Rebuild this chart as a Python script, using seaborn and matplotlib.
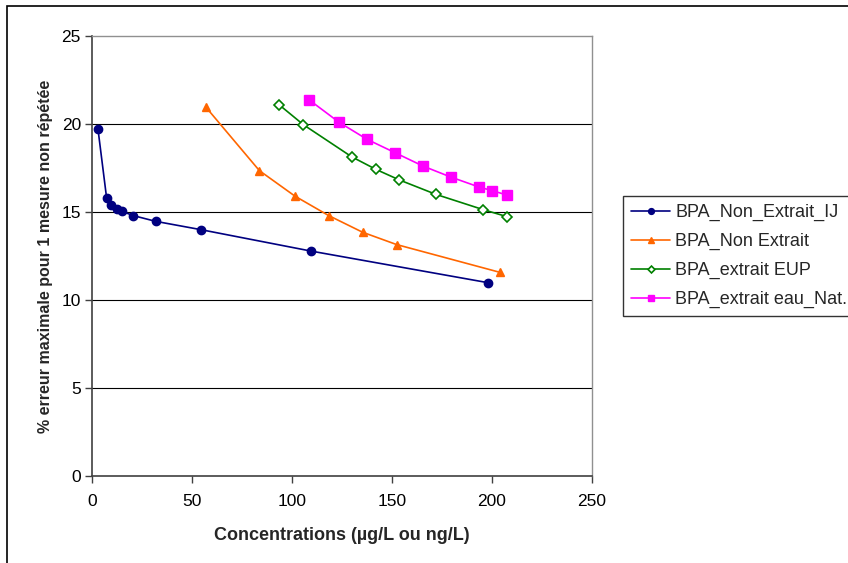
import matplotlib
matplotlib.use("Agg")
import matplotlib.pyplot as plt
from matplotlib.patches import Rectangle
import seaborn as sns
import pandas as pd

sns.set_theme(style="white")
plt.rcParams["font.family"] = ["Liberation Sans", "DejaVu Sans"]

# data
ij_x = [3, 7.3, 9.3, 12.3, 15, 20.5, 31.8, 54.3, 109.5, 198.2]
ij_y = [19.7, 15.8, 15.4, 15.17, 15.04, 14.8, 14.47, 14.0, 12.78, 10.98]

ne_x = [57, 83.7, 101.5, 118.3, 135.3, 152.3, 204]
ne_y = [20.95, 17.35, 15.9, 14.8, 13.85, 13.15, 11.57]

eup_x = [93.7, 105.7, 129.8, 142, 153.7, 172, 195.7, 207.7]
eup_y = [21.08, 19.96, 18.14, 17.42, 16.82, 16.0, 15.13, 14.73]

nat_x = [108.7, 123.5, 137.5, 151.5, 165.5, 179.3, 193.5, 200.2, 207.3]
nat_y = [21.36, 20.1, 19.13, 18.37, 17.61, 16.99, 16.42, 16.21, 15.97]

series_names = ["BPA_Non_Extrait_IJ", "BPA_Non Extrait", "BPA_extrait EUP", "BPA_extrait eau_Nat."]

frames = []
for name, xs, ys in zip(series_names, [ij_x, ne_x, eup_x, nat_x], [ij_y, ne_y, eup_y, nat_y]):
    frames.append(pd.DataFrame({"conc": xs, "err": ys, "serie": name}))
df = pd.concat(frames, ignore_index=True)

styles = {
    "BPA_Non_Extrait_IJ": dict(color="#000080", marker="o", ms=6, mfc="#000080", mec="#000080"),
    "BPA_Non Extrait": dict(color="#FF6600", marker="^", ms=6, mfc="#FF6600", mec="#FF6600"),
    "BPA_extrait EUP": dict(color="#008000", marker="D", ms=5, mfc="white", mec="#008000", mew=1.2),
    "BPA_extrait eau_Nat.": dict(color="#FF00FF", marker="s", ms=6.5, mfc="#FF00FF", mec="#FF00FF"),
}

fig = plt.figure(figsize=(8.48, 5.63), dpi=100)
ax = fig.add_axes([92 / 848, 1 - 476 / 563, 500 / 848, 440 / 563])

for name in series_names:
    sub = df[df["serie"] == name]
    st = styles[name]
    sns.lineplot(data=sub, x="conc", y="err", ax=ax, sort=False, estimator=None,
                 color=st["color"], linewidth=1.2, label=name,
                 marker=st["marker"], markersize=st["ms"], markerfacecolor=st["mfc"],
                 markeredgecolor=st["mec"], markeredgewidth=st.get("mew", 1))

ax.set_xlim(0, 250)
ax.set_ylim(0, 25)
ax.set_xticks([0, 50, 100, 150, 200, 250])
ax.set_yticks([0, 5, 10, 15, 20, 25])
for yv in [5, 10, 15, 20]:
    ax.axhline(yv, color="black", linewidth=0.8, zorder=0)

ax.tick_params(axis="both", which="both", direction="out", length=5, width=1,
               color="#404040", labelsize=12.5, labelcolor="black")
ax.tick_params(axis="x", bottom=True, pad=8)
ax.tick_params(axis="y", left=True, pad=3)
for side in ["left", "bottom"]:
    ax.spines[side].set_color("#404040")
    ax.spines[side].set_linewidth(1.2)
for side in ["top", "right"]:
    ax.spines[side].set_color("#909090")
    ax.spines[side].set_linewidth(1)

ax.set_xlabel("Concentrations (µg/L ou ng/L)", fontsize=13, fontweight="bold", labelpad=13)
ax.set_ylabel("% erreur maximale pour 1 mesure non répétée", fontsize=11.5, fontweight="bold", labelpad=6)

leg = ax.legend(loc="upper left", bbox_to_anchor=(623 / 848, 1 - 196 / 563),
                bbox_transform=fig.transFigure, fontsize=13, frameon=True,
                fancybox=False, edgecolor="black", handlelength=2.15, labelspacing=0.65,
                borderpad=0.45, handletextpad=0.3, borderaxespad=0, markerscale=0.7)
leg.get_frame().set_linewidth(1)

# outer chart frame (cropped at right and bottom)
fig.patches.append(Rectangle((7 / 848, -0.1), 1.5, 1.1 - 6 / 563, transform=fig.transFigure,
                             fill=False, edgecolor="black", linewidth=1.2))

fig.savefig("out.png", dpi=100)
